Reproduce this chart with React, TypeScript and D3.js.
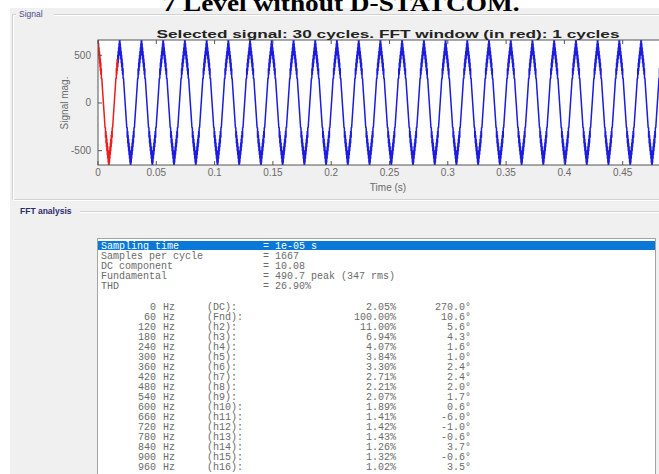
import React from "react";
import * as d3 from "d3";

// texts
const pageTitle = "7 Level without D-STATCOM.";
const plotTitle = "Selected signal: 30 cycles. FFT window (in red): 1 cycles";
const xLabel = "Time (s)";
const yLabel = "Signal mag.";

// axis ticks
const xTicks = [0, 0.05, 0.1, 0.15, 0.2, 0.25, 0.3, 0.35, 0.4, 0.45, 0.5];
const xTickLabels = ["0", "0.05", "0.1", "0.15", "0.2", "0.25", "0.3", "0.35", "0.4", "0.45", "0.5"];
const yTicks = [-500, 0, 500];
const yTickLabels = ["-500", "0", "500"];

// times of the positive peaks (s)
const peakTimes = [
  0, 0.0186, 0.0373, 0.0559, 0.0745, 0.0932, 0.1118, 0.1304, 0.149, 0.1677,
  0.1863, 0.2049, 0.2236, 0.2422, 0.2608, 0.2795, 0.2981, 0.3167, 0.3353,
  0.354, 0.3726, 0.3912, 0.4099, 0.4285, 0.4471, 0.4658, 0.4844, 0.503
];
const fftWindowEnd = 0.0167;

// one quarter of the stepped wave, from the peak down to the zero crossing
const quarterPhase = [
  0, 0.012, 0.012, 0.022, 0.022, 0.03, 0.03, 0.042, 0.042, 0.05, 0.05, 0.062,
  0.062, 0.07, 0.07, 0.082, 0.082, 0.09, 0.09, 0.102, 0.102, 0.11, 0.11, 0.122,
  0.122, 0.13, 0.13, 0.145, 0.145, 0.155, 0.155, 0.175, 0.2, 0.225, 0.25
];
const quarterValue = [
  655, 655, 560, 560, 620, 620, 500, 500, 580, 580, 460, 460,
  540, 540, 420, 420, 500, 500, 380, 380, 460, 460, 340, 340,
  420, 420, 300, 300, 360, 360, 260, 260, 170, 85, 0
];

// FFT listing
const infoLabels = ["Sampling time", "Samples per cycle", "DC component", "Fundamental", "THD"];
const infoValues = ["1e-05 s", "1667", "10.08", "490.7 peak (347 rms)", "26.90%"];
const harmFreq = ["0", "60", "120", "180", "240", "300", "360", "420", "480", "540", "600", "660", "720", "780", "840", "900", "960"];
const harmName = ["(DC):", "(Fnd):", "(h2):", "(h3):", "(h4):", "(h5):", "(h6):", "(h7):", "(h8):", "(h9):", "(h10):", "(h11):", "(h12):", "(h13):", "(h14):", "(h15):", "(h16):"];
const harmMag = ["2.05%", "100.00%", "11.00%", "6.94%", "4.07%", "3.84%", "3.30%", "2.71%", "2.21%", "2.07%", "1.89%", "1.41%", "1.42%", "1.43%", "1.26%", "1.32%", "1.02%"];
const harmPhase = ["270.0°", "10.6°", "5.6°", "4.3°", "1.6°", "1.0°", "2.4°", "2.4°", "2.0°", "1.7°", "0.6°", "-6.0°", "-1.0°", "-0.6°", "3.7°", "-0.6°", "3.5°"];

type Pt = { t: number; v: number };

function buildSignal(): Pt[] {
  // full cycle from the quarter by symmetry
  const cyc: { p: number; v: number }[] = quarterPhase.map((p, i) => ({ p, v: quarterValue[i] }));
  for (let i = quarterPhase.length - 1; i >= 0; i--) cyc.push({ p: 0.5 - quarterPhase[i], v: -quarterValue[i] });
  const half = cyc.slice();
  for (let i = half.length - 1; i >= 0; i--) cyc.push({ p: 1 - half[i].p, v: half[i].v });

  const pts: Pt[] = [];
  for (let k = 0; k < peakTimes.length - 1; k++) {
    const t0 = peakTimes[k];
    const T = peakTimes[k + 1] - t0;
    cyc.forEach(c => pts.push({ t: t0 + c.p * T, v: c.v }));
  }
  return pts;
}

export default function App() {
  const W = 659;
  const H = 474;

  const x = d3.scaleLinear().domain([0, 0.5]).range([98, 681]);
  const y = d3.scaleLinear().domain([-650, 660]).range([165, 40]);

  const signal = buildSignal();
  const split = signal.findIndex(d => d.t > fftWindowEnd);
  const redPts = signal.slice(0, split);
  const bluePts = signal.slice(split - 1);

  const line = d3
    .line<Pt>()
    .x(d => x(d.t))
    .y(d => y(d.v));

  const plotLeft = x(0);
  const plotTop = y(660);
  const plotBottom = y(-650);
  const plotRight = x(0.5);

  const mono = "'Liberation Mono', 'DejaVu Sans Mono', monospace";
  const sans = "'Liberation Sans', Arial, sans-serif";
  const txt = "#6a6a6a";

  return (
    <div>
      <style>{`body { margin: 0; }`}</style>
      <svg width={W} height={H} style={{ display: "block", background: "#ffffff" }}>
        <defs>
          <clipPath id="plotClip">
            <rect x={plotLeft} y={plotTop} width={plotRight - plotLeft} height={plotBottom - plotTop} />
          </clipPath>
        </defs>

        {/* window background */}
        <rect x={10} y={8} width={W - 10} height={H - 8} fill="#f0f0f0" />

        {/* page caption, cut at the top as in the screenshot */}
        <text
          x={341}
          y={11}
          textAnchor="middle"
          fontFamily="'Liberation Serif', 'Times New Roman', serif"
          fontWeight="bold"
          fontSize={24}
          textLength={357}
          lengthAdjust="spacingAndGlyphs"
          fill="#000"
        >
          {pageTitle}
        </text>

        {/* Signal group box */}
        <path d={`M${W},14.5 H54 M16,14.5 H12.5 V199.5 H${W}`} fill="none" stroke="#d2d2d2" />
        <path d={`M${W},15.5 H54 M16,15.5 H13.5 V200.5 H${W}`} fill="none" stroke="#ffffff" />
        <text x={19} y={17} fontFamily={sans} fontSize={8.5} fill="#4b4b8c">
          Signal
        </text>

        {/* plot */}
        <rect x={plotLeft} y={plotTop} width={plotRight - plotLeft} height={plotBottom - plotTop} fill="#ffffff" />
        <g clipPath="url(#plotClip)">
          <path d={line(bluePts) || ""} fill="none" stroke="#1c1ce0" strokeWidth={1.5} strokeLinejoin="round" />
          <path d={line(redPts) || ""} fill="none" stroke="#f01c1c" strokeWidth={1.5} strokeLinejoin="round" />
        </g>
        <rect
          x={plotLeft}
          y={plotTop}
          width={plotRight - plotLeft}
          height={plotBottom - plotTop}
          fill="none"
          stroke="#555"
          strokeWidth={1}
        />
        {xTicks.map(t => (
          <g key={"xt" + t}>
            <line x1={x(t)} x2={x(t)} y1={plotBottom} y2={plotBottom - 4} stroke="#555" />
            <line x1={x(t)} x2={x(t)} y1={plotTop} y2={plotTop + 4} stroke="#555" />
          </g>
        ))}
        {yTicks.map(v => (
          <line key={"yt" + v} x1={plotLeft} x2={plotLeft + 4} y1={y(v)} y2={y(v)} stroke="#555" />
        ))}
        {xTicks
          .map((t, i) => ({ t, label: xTickLabels[i] }))
          .filter(d => x(d.t) < W - 8)
          .map(d => (
            <text key={"xl" + d.t} x={x(d.t)} y={176} textAnchor="middle" fontFamily={sans} fontSize={10} fill={txt}>
              {d.label}
            </text>
          ))}
        {yTicks.map((v, i) => (
          <text key={"yl" + v} x={91} y={y(v) + 3.5} textAnchor="end" fontFamily={sans} fontSize={10} fill={txt}>
            {yTickLabels[i]}
          </text>
        ))}
        <text
          x={388}
          y={38}
          textAnchor="middle"
          fontFamily={sans}
          fontWeight="bold"
          fontSize={11.5}
          textLength={463}
          lengthAdjust="spacingAndGlyphs"
          fill="#222"
        >
          {plotTitle}
        </text>
        <text x={388} y={191} textAnchor="middle" fontFamily={sans} fontSize={10} fill={txt}>
          {xLabel}
        </text>
        <text
          transform={`translate(68, ${y(0)}) rotate(-90)`}
          textAnchor="middle"
          fontFamily={sans}
          fontSize={10}
          fill={txt}
        >
          {yLabel}
        </text>

        {/* FFT analysis group box */}
        <path d={`M${W},211.5 H80`} fill="none" stroke="#d2d2d2" />
        <path d={`M${W},212.5 H80`} fill="none" stroke="#ffffff" />
        <text x={20} y={214} fontFamily={sans} fontSize={8.5} fontWeight="bold" fill="#2c2c6c">
          FFT analysis
        </text>

        {/* listing box */}
        <rect x={97.5} y={238.5} width={558} height={H} fill="#ffffff" stroke="#a4a4a4" />
        <rect x={98} y={241} width={557} height={9} fill="#0a78d7" />
        {infoLabels.map((lab, i) => (
          <g key={"info" + i} fontFamily={mono} fontSize={10} fill={i === 0 ? "#ffffff" : txt}>
            <text x={101} y={249 + i * 10}>
              {lab}
            </text>
            <text x={263} y={249 + i * 10}>
              {"= " + infoValues[i]}
            </text>
          </g>
        ))}
        {harmFreq.map((f, i) => {
          const yy = 309.5 + i * 10;
          return (
            <g key={"h" + i} fontFamily={mono} fontSize={10} fill={txt}>
              <text x={156} y={yy} textAnchor="end">
                {f}
              </text>
              <text x={163} y={yy}>
                Hz
              </text>
              <text x={207} y={yy}>
                {harmName[i]}
              </text>
              <text x={396} y={yy} textAnchor="end">
                {harmMag[i]}
              </text>
              <text x={471} y={yy} textAnchor="end">
                {harmPhase[i]}
              </text>
            </g>
          );
        })}
      </svg>
    </div>
  );
}
